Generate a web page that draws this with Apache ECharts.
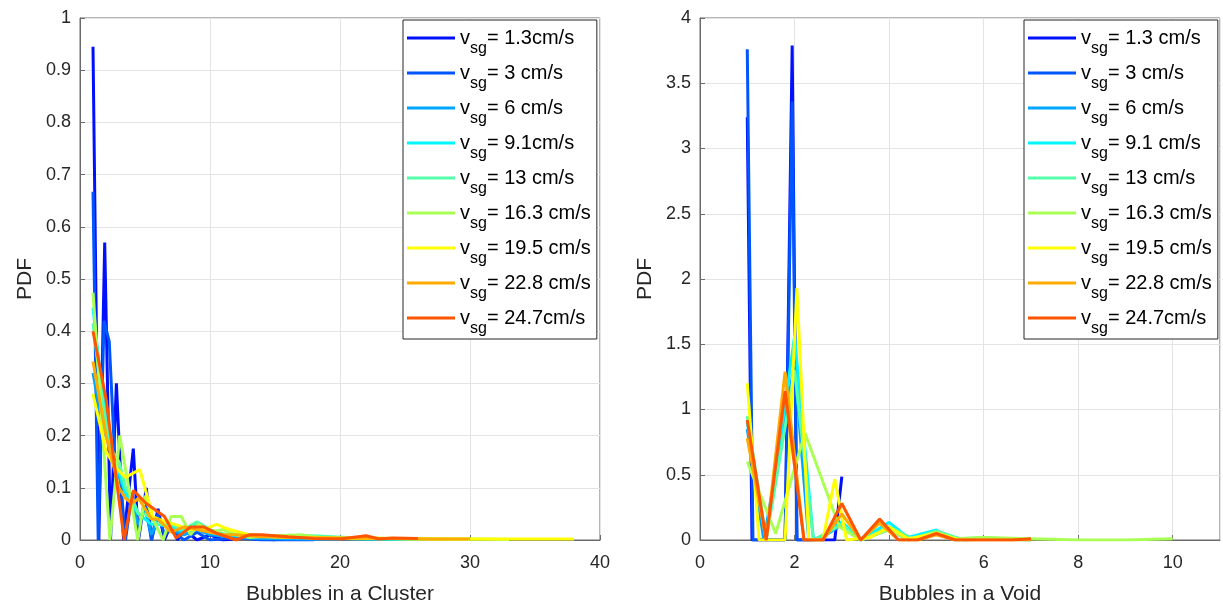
<!DOCTYPE html>
<html>
<head>
<meta charset="utf-8">
<script src="https://cdn.jsdelivr.net/npm/echarts@6/dist/echarts.min.js"></script>
<style>html,body{margin:0;padding:0;background:#fff}#c{width:1223px;height:610px}</style>
</head>
<body>
<div id="c"></div>
<script>
// ---------- data ----------
const legendLeft = ["= 1.3cm/s","= 3 cm/s","= 6 cm/s","= 9.1cm/s","= 13 cm/s","= 16.3 cm/s","= 19.5 cm/s","= 22.8 cm/s","= 24.7cm/s"];
const legendRight = ["= 1.3 cm/s","= 3 cm/s","= 6 cm/s","= 9.1 cm/s","= 13 cm/s","= 16.3 cm/s","= 19.5 cm/s","= 22.8 cm/s","= 24.7cm/s"];
const colors = ["#0010ff","#0055ff","#00a5ff","#00f5ff","#55ffaa","#aaff55","#ffff00","#ffaa00","#ff5500"];

const leftXTicks = [0,10,20,30,40];
const rightXTicks = [0,2,4,6,8,10];

// Bubbles in a Cluster  ([x, PDF])
const cluster13 = [[1,0.945],[1.45,0],[1.9,0.57],[2.35,0],[2.8,0.3],[3.35,0],[4.1,0.175],[4.5,0],[5.1,0.1],[5.5,0],[6,0.06],[6.5,0],[7,0.03],[7.5,0],[8,0.02],[9,0],[10,0.01],[11,0],[13,0.005],[15,0]];
const cluster3 = [[1,0.667],[1.4,0],[1.85,0.42],[2.25,0.38],[2.75,0.12],[3.1,0.12],[3.5,0],[4,0.09],[4.5,0.02],[5,0.07],[5.5,0],[6,0.05],[6.5,0.01],[7,0.02],[8,0],[9,0.015],[10,0],[12,0.005],[14,0],[18,0]];
const cluster6 = [[1,0.32],[1.5,0.25],[2,0.2],[2.5,0.16],[3,0.12],[3.5,0.09],[4,0.07],[4.5,0.03],[5,0.06],[5.5,0.01],[6,0.04],[7,0.02],[8,0.01],[9,0.02],[10,0.01],[12,0.005],[14,0.003],[17,0.002],[20,0.001]];
const cluster91 = [[1,0.445],[1.5,0.33],[2,0.23],[2.5,0.16],[3,0.13],[3.5,0.09],[4,0.07],[4.5,0.05],[5,0.04],[5.5,0.03],[6,0.03],[7,0.025],[8,0.015],[9,0.03],[10,0.015],[11,0.01],[13,0.008],[15,0.005],[18,0.004],[22,0.002],[26,0.001]];
const cluster13b = [[1,0.415],[1.5,0.31],[2,0.22],[2.5,0.17],[3,0.15],[3.5,0.1],[4,0.08],[4.5,0.05],[5,0.05],[6,0.03],[7,0.03],[8,0.02],[9,0.035],[10,0.02],[11,0.012],[13,0.01],[15,0.006],[18,0.008],[22,0.003],[30,0.001]];
const cluster163 = [[1,0.474],[2.3,0],[3.05,0.2],[4.45,0],[5,0.085],[5.6,0.04],[6.4,0],[7,0.045],[7.8,0.045],[8.5,0.01],[9.1,0.03],[10,0.015],[11,0.02],[12,0.01],[13,0.005],[15,0.008],[17,0.01],[19,0.003],[22,0.004],[26,0.002],[30,0.002],[33,0.001]];
const cluster195 = [[1,0.28],[2,0.17],[2.7,0.14],[3.5,0.12],[4.6,0.135],[5.6,0.045],[6.5,0.035],[7.3,0.03],[8.5,0.02],[9.5,0.02],[10.5,0.03],[11.5,0.02],[13,0.01],[15,0.006],[17,0.005],[20,0.004],[24,0.003],[28,0.002],[32,0.002],[38,0.002]];
const cluster228 = [[1,0.342],[1.5,0.27],[2,0.2],[2.5,0.15],[3,0.1],[3.5,0.08],[4,0.07],[4.5,0.08],[5,0.06],[5.5,0.04],[6,0.04],[7,0.015],[8,0.025],[9,0.02],[10,0.015],[11,0.01],[12,0.01],[14,0.006],[16,0.005],[20,0.004],[24,0.003],[27,0.002],[30,0.002]];
const cluster247 = [[1,0.4],[2,0.27],[3.4,0],[4.1,0.095],[5.1,0.07],[6.5,0.045],[7.4,0.004],[8.5,0.025],[9.5,0.025],[10.5,0.013],[12,0],[13,0.01],[14,0.01],[16,0.006],[18,0.003],[20,0.002],[22,0.008],[23,0.002],[24,0.004],[26,0.003]];

// Bubbles in a Void  ([x, PDF])
const void13 = [[1,3.24],[1.1,0],[1.8,0],[1.95,3.79],[2.05,0],[2.5,0],[2.85,0],[3,0.485]];
const void3 = [[1,3.76],[1.12,0],[1.8,0],[1.95,3.36],[2.05,0],[2.4,0],[2.7,0.05],[2.9,0.15],[3,0.12]];
const void6 = [[1,0.85],[1.35,0],[2,1.35],[2.3,0],[2.6,0.02],[3,0.12],[3.4,0],[4,0.08],[4.4,0],[5,0.05],[5.6,0],[6,0.01]];
const void91 = [[1,0.9],[1.4,0],[2,1.56],[2.4,0],[2.6,0.02],[3,0.14],[3.4,0],[4,0.135],[4.4,0.02],[5,0.077],[5.4,0],[6,0.01],[7,0]];
const void13b = [[1,0.95],[1.4,0],[2,1.3],[2.4,0],[3,0.12],[3.4,0],[4,0.1],[4.5,0.01],[5,0.07],[5.5,0.01],[6,0.02],[7,0]];
const void163 = [[1,0.6],[1.6,0.05],[2.22,0.82],[2.95,0.1],[3.4,0],[4,0.08],[4.4,0],[5,0.06],[5.4,0.01],[6,0.02],[7,0.01],[8,0],[9,0],[10,0.01]];
const void195 = [[1,1.2],[1.25,0],[1.8,0],[2.05,1.93],[2.3,0],[2.6,0],[2.85,0.465],[3.1,0],[3.6,0.02],[4,0.1],[4.4,0.01],[5,0.05],[5.5,0]];
const void228 = [[1,0.78],[1.4,0],[1.8,1.29],[2.2,0],[2.6,0],[3,0.2],[3.4,0],[3.8,0.13],[4.2,0],[4.6,0],[5,0.04],[5.4,0],[7,0]];
const void247 = [[1,0.92],[1.4,0],[1.8,1.14],[2.2,0],[2.6,0],[3,0.28],[3.4,0],[3.8,0.16],[4.2,0],[4.6,0],[5,0.05],[5.4,0],[5.8,0],[6.2,0],[6.6,0],[7,0.01]];

const clusterSeries = [cluster13,cluster3,cluster6,cluster91,cluster13b,cluster163,cluster195,cluster228,cluster247];
const voidSeries = [void13,void3,void6,void91,void13b,void163,void195,void228,void247];

// ---------- chart ----------
const FONT = 'Liberation Sans, Arial, sans-serif';
const axisCol = '#6a6a6a';
const txtCol = '#262626';

function xAxis(idx, max, interval, name) {
  return {
    type: 'value', gridIndex: idx, min: 0, max: max, interval: interval,
    name: name, nameLocation: 'middle', nameGap: 44,
    nameTextStyle: {fontFamily: FONT, fontSize: 21, color: txtCol},
    axisLine: {show: true, onZero: false, lineStyle: {color: axisCol, width: 1}},
    axisTick: {show: true, inside: true, length: 5, lineStyle: {color: axisCol}},
    axisLabel: {fontFamily: FONT, fontSize: 18, color: txtCol, margin: 14, showMaxLabel: max === 40},
    splitLine: {show: true, lineStyle: {color: '#e4e4e4', width: 1}}
  };
}
function yAxis(idx, max, interval) {
  return {
    type: 'value', gridIndex: idx, min: 0, max: max, interval: interval,
    name: 'PDF', nameLocation: 'middle', nameGap: 44,
    nameTextStyle: {fontFamily: FONT, fontSize: 21, color: txtCol},
    axisLine: {show: true, lineStyle: {color: axisCol, width: 1}},
    axisTick: {show: true, inside: true, length: 5, lineStyle: {color: axisCol}},
    axisLabel: {fontFamily: FONT, fontSize: 18, color: txtCol, margin: 9},
    splitLine: {show: true, lineStyle: {color: '#e4e4e4', width: 1}}
  };
}

const rich = {
  v: {fontFamily: FONT, fontSize: 20, color: '#000'},
  s: {fontFamily: FONT, fontSize: 16, color: '#000', padding: [22, 0, 0, 0]},
  t: {fontFamily: FONT, fontSize: 20, color: '#000'}
};
function legend(names, left) {
  return {
    show: true, orient: 'vertical', left: left, top: 20,
    data: names, icon: 'rect', itemWidth: 48, itemHeight: 3, itemGap: 4,
    padding: [6, 6, 2, 4],
    backgroundColor: '#fff', borderColor: '#262626', borderWidth: 1,
    textStyle: {fontFamily: FONT, fontSize: 20, color: '#000', lineHeight: 24, rich: rich},
    formatter: n => '{v|v}{s|sg}{t|' + n.slice(2) + '}'
  };
}

const series = [];
clusterSeries.forEach((d, i) => series.push({
  name: 'L|' + legendLeft[i], type: 'line', xAxisIndex: 0, yAxisIndex: 0, data: d,
  symbol: 'none', color: colors[i], lineStyle: {width: 3, color: colors[i]}
}));
voidSeries.forEach((d, i) => series.push({
  name: 'R|' + legendRight[i], type: 'line', xAxisIndex: 1, yAxisIndex: 1, data: d,
  symbol: 'none', color: colors[i], lineStyle: {width: 3, color: colors[i]}
}));

const chart = echarts.init(document.getElementById('c'), null, {renderer: 'canvas'});
chart.setOption({
  animation: false,
  backgroundColor: '#fff',
  grid: [
    {left: 80, top: 18, width: 520, height: 522, show: true, borderColor: axisCol, borderWidth: 1, backgroundColor: 'transparent'},
    {left: 700, top: 18, width: 520, height: 522, show: true, borderColor: axisCol, borderWidth: 1, backgroundColor: 'transparent'}
  ],
  xAxis: [xAxis(0, 40, 10, 'Bubbles in a Cluster'), xAxis(1, 11, 2, 'Bubbles in a Void')],
  yAxis: [yAxis(0, 1, 0.1), yAxis(1, 4, 0.5)],
  legend: [legend(series.slice(0, 9).map(s => s.name), 403), legend(series.slice(9).map(s => s.name), 1024)],
  series: series
});
</script>
</body>
</html>
